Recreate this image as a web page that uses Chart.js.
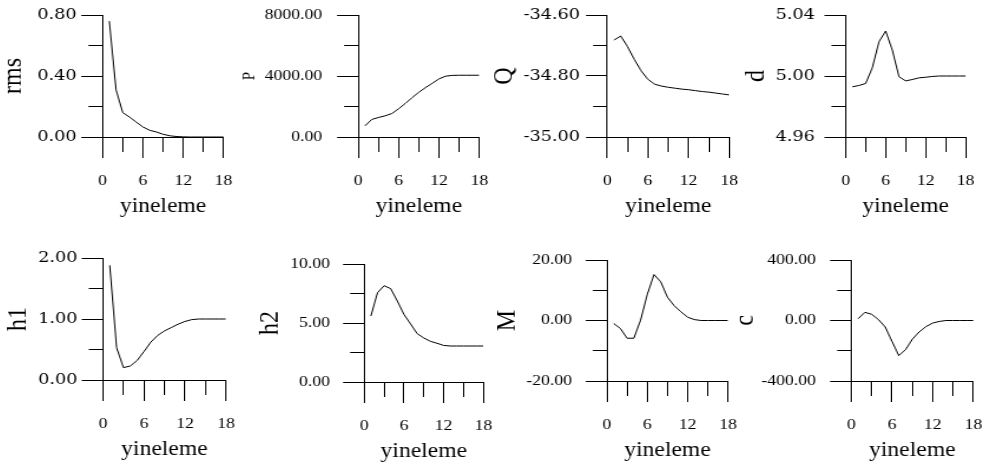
<!DOCTYPE html>
<html>
<head>
<meta charset="utf-8">
<script src="https://cdn.jsdelivr.net/npm/chart.js@4.4.0/dist/chart.umd.min.js"></script>
<style>
  body { margin: 0; background: #fff; }
  #wrap { position: relative; width: 987px; height: 467px; overflow: hidden; background: #fff; }
  #wrap canvas { position: absolute; transform-origin: 0 0; }
</style>
</head>
<body>
<div id="wrap"></div>
<script>
'use strict';

// iteration numbers (x values of every series)
var iterations = [1, 2, 3, 4, 5, 6, 7, 8, 9, 10, 11, 12, 13, 14, 15, 16, 17, 18];
var xTickLabels = [0, 6, 12, 18];

// one series per panel
var rmsValues = [0.76, 0.31, 0.16, 0.131, 0.098, 0.066, 0.044, 0.033, 0.018, 0.008, 0.003, 0.001, 0, 0, 0, 0, 0, 0];
var pValues = [730, 1150, 1280, 1390, 1540, 1850, 2200, 2580, 2930, 3240, 3520, 3810, 3990, 4040, 4050, 4050, 4050, 4050];
var qValues = [-34.682, -34.669, -34.704, -34.746, -34.783, -34.811, -34.827, -34.833, -34.837, -34.840, -34.843, -34.845, -34.848, -34.851, -34.853, -34.856, -34.859, -34.862];
var dValues = [4.9929, 4.9938, 4.9951, 5.0054, 5.0225, 5.0295, 5.017, 4.9995, 4.9968, 4.9977, 4.9988, 4.9992, 4.9997, 5.0, 5.0, 5.0, 5.0, 5.0];
var h1Values = [1.88, 0.53, 0.203, 0.23, 0.32, 0.466, 0.62, 0.73, 0.805, 0.86, 0.915, 0.96, 0.99, 1.0, 1.0, 1.0, 1.0, 1.0];
var h2Values = [5.59, 7.57, 8.16, 7.91, 6.86, 5.73, 4.92, 4.1, 3.73, 3.45, 3.28, 3.1, 3.05, 3.05, 3.05, 3.05, 3.05, 3.05];
var mValues = [-1.0, -2.65, -5.86, -5.86, 0.1, 8.6, 15.2, 12.8, 7.7, 4.9, 2.9, 1.1, 0.3, 0, 0, 0, 0, 0];
var cValues = [12, 54, 41, 6, -43, -138, -232, -193, -124, -76, -41, -17, -6, 0, 0, 0, 0, 0];

var allSeries = [rmsValues, pValues, qValues, dValues, h1Values, h2Values, mValues, cValues];
var yTitles = ['rms', 'P', 'Q', 'd', 'h1', 'h2', 'M', 'c'];
var xTitle = 'yineleme';

// y ranges (every other tick gets a label)
var yMins = [0, 0, -35, 4.96, 0, 0, -20, -400];
var yMaxs = [0.8, 8000, -34.6, 5.04, 2, 10, 20, 400];
var ySteps = [0.2, 2000, 0.1, 0.02, 0.5, 2.5, 10, 200];

// the whole figure is a bit wider than tall, so each canvas is stretched sideways
var stretch = 1.18;

// where each plot sits on the page and how its left axis is spaced
var plotBoxes = [
  { left: 103, top: 15, w: 121, h: 122, yWidth: 90.3, labelPad: 4, wide: true, titleSize: 24 },
  { left: 358, top: 15, w: 121, h: 122, yWidth: 101.1, labelPad: 12.5, wide: false, titleSize: 15 },
  { left: 607, top: 15, w: 122, h: 122, yWidth: 101.9, labelPad: 5, wide: true, titleSize: 24 },
  { left: 846, top: 15, w: 120, h: 122, yWidth: 90.4, labelPad: 8, wide: true, titleSize: 24 },
  { left: 103, top: 258, w: 123, h: 122, yWidth: 86.4, labelPad: 3.5, wide: true, titleSize: 24 },
  { left: 364, top: 264, w: 119, h: 118, yWidth: 94.3, labelPad: 11, wide: false, titleSize: 24 },
  { left: 607, top: 260, w: 121, h: 121, yWidth: 99.1, labelPad: 11.7, wide: false, titleSize: 24 },
  { left: 851, top: 260, w: 122, h: 121, yWidth: 104.5, labelPad: 12, wide: false, titleSize: 24 }
];

var serif = '"Liberation Serif", "Times New Roman", serif';
var wideSerif = '"DejaVu Serif", serif';
Chart.defaults.font.family = serif;
Chart.defaults.color = '#000';

var wrap = document.getElementById('wrap');

function makeChart(i) {
  var box = plotBoxes[i];
  // room above and right of the plot for the tick label overhang
  var padTop = 26;
  var padRight = 32;
  var xHeight = 82;
  var innerW = box.w / stretch;
  var canvasW = Math.ceil(box.yWidth + innerW + padRight);
  var canvasH = Math.ceil(padTop + box.h + xHeight);

  var canvas = document.createElement('canvas');
  canvas.width = canvasW;
  canvas.height = canvasH;
  canvas.style.left = (box.left - box.yWidth * stretch) + 'px';
  canvas.style.top = (box.top - padTop) + 'px';
  canvas.style.transform = 'scaleX(' + stretch + ')';
  wrap.appendChild(canvas);

  var points = [];
  for (var j = 0; j < iterations.length; j++) {
    points.push({ x: iterations[j], y: allSeries[i][j] });
  }

  return new Chart(canvas.getContext('2d'), {
    type: 'line',
    data: {
      datasets: [{
        data: points,
        borderColor: '#000',
        borderWidth: 1,
        pointRadius: 0,
        tension: 0,
        fill: false
      }]
    },
    options: {
      responsive: false,
      animation: false,
      devicePixelRatio: 1,
      layout: {
        padding: {
          left: 0,
          top: padTop,
          right: canvasW - box.yWidth - innerW,
          bottom: canvasH - padTop - box.h - xHeight
        }
      },
      plugins: { legend: { display: false }, tooltip: { enabled: false } },
      scales: {
        x: {
          type: 'linear',
          min: 0,
          max: 18,
          afterFit: function (scale) { scale.height = xHeight; },
          border: { display: true, color: '#000', width: 1 },
          grid: {
            drawOnChartArea: false,
            drawTicks: true,
            tickLength: 21,
            tickColor: '#000',
            tickWidth: 1,
            // minor ticks are shorter
            tickBorderDash: function (ctx) { return ctx.index % 2 ? [14, 100] : []; }
          },
          ticks: {
            stepSize: 3,
            autoSkip: false,
            maxRotation: 0,
            padding: 14,
            font: { size: 15, family: serif },
            callback: function (v) { return xTickLabels.indexOf(v) >= 0 ? String(v) : ''; }
          },
          title: {
            display: true,
            text: xTitle,
            padding: 0,
            font: { size: 20, family: serif }
          }
        },
        y: {
          min: yMins[i],
          max: yMaxs[i],
          afterFit: function (scale) { scale.width = box.yWidth; },
          border: { display: true, color: '#000', width: 1 },
          grid: {
            drawOnChartArea: false,
            drawTicks: true,
            tickLength: 18,
            tickColor: '#000',
            tickWidth: 1,
            tickBorderDash: function (ctx) { return ctx.index % 2 ? [12, 100] : []; },
            tickBorderDashOffset: function (ctx) { return ctx.index % 2 ? 106 : 0; }
          },
          ticks: {
            stepSize: ySteps[i],
            autoSkip: false,
            padding: box.labelPad,
            font: { size: 15, family: box.wide ? wideSerif : serif },
            callback: function (v, idx) { return idx % 2 ? '' : Number(v).toFixed(2); }
          },
          title: {
            display: true,
            text: yTitles[i],
            padding: 0,
            font: { size: box.titleSize, family: serif }
          }
        }
      }
    }
  });
}

var charts = [];
for (var k = 0; k < plotBoxes.length; k++) {
  charts.push(makeChart(k));
}
</script>
</body>
</html>
